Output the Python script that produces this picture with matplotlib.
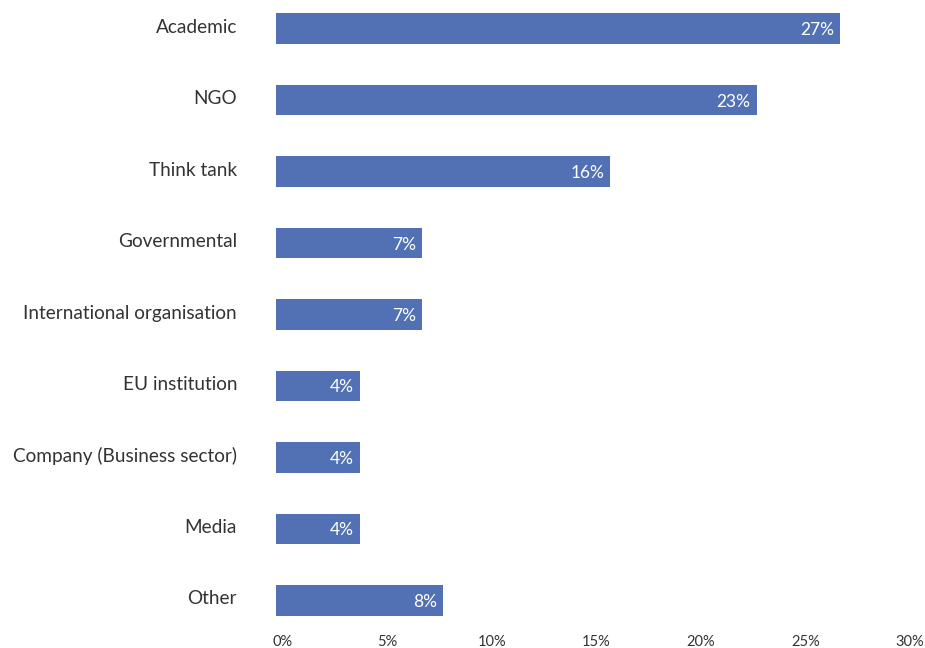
import matplotlib
matplotlib.use("Agg")
import matplotlib.pyplot as plt
import matplotlib.transforms as mtransforms
import numpy as np

categories = ["Academic", "NGO", "Think tank", "Governmental",
              "International organisation", "EU institution",
              "Company (Business sector)", "Media", "Other"]
shares = [27, 23, 16, 7, 7, 4, 4, 4, 8]
xticks = [0, 5, 10, 15, 20, 25, 30]

plt.rcParams['font.family'] = ['Lato', 'DejaVu Sans']

fig = plt.figure(figsize=(9.25, 6.48), dpi=100)
ax = fig.add_axes([276 / 925, 1 - 629 / 648, 627 / 925, 629 / 648])

y = np.arange(len(categories))
ax.barh(y, shares, height=0.43, color="#5271b4")
ax.set_ylim(8.40, -0.40)
ax.set_xlim(0, 30)

for yi, v in zip(y, shares):
    ax.text(v - 0.3, yi, f"{v}%", ha="right", va="center_baseline",
            color="white", fontsize=12.5)

ax.set_yticks(y)
ax.set_yticklabels(categories, fontsize=13.7, color="#333333")
ax.set_xticks(xticks)
ax.set_xticklabels([f"{t}%" for t in xticks], fontsize=10.5, color="#333333")
ax.tick_params(axis="y", length=0, pad=28)
ax.tick_params(axis="x", length=0, pad=4)
for s in ax.spines.values():
    s.set_visible(False)

# nudge labels like the original
up = mtransforms.ScaledTranslation(0, 3 / 100, fig.dpi_scale_trans)
for lab in ax.get_yticklabels():
    lab.set_transform(lab.get_transform() + up)
right = mtransforms.ScaledTranslation(7 / 100, 0, fig.dpi_scale_trans)
for lab in ax.get_xticklabels():
    lab.set_transform(lab.get_transform() + right)

fig.savefig("out.png", dpi=100)
